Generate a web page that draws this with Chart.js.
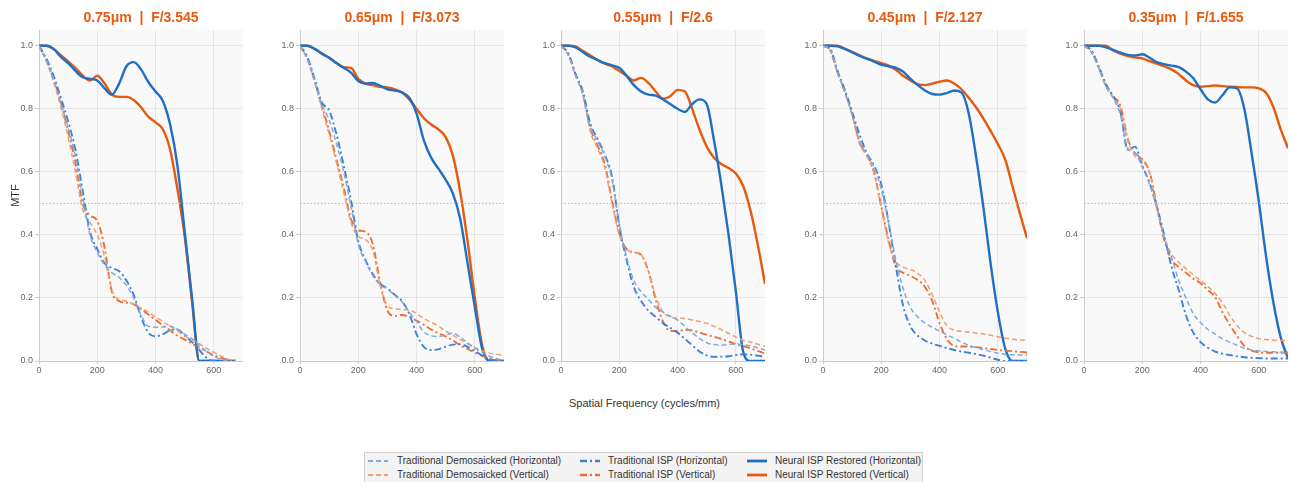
<!DOCTYPE html>
<html><head><meta charset="utf-8">
<script src="https://cdn.jsdelivr.net/npm/chart.js@4.4.1/dist/chart.umd.min.js"></script>
<style>
html,body{margin:0;padding:0;background:#fff;width:1289px;height:482px;overflow:hidden;position:relative;font-family:"Liberation Sans",Arial,sans-serif;}
.panel{position:absolute;top:0;}
#xtitle{position:absolute;left:0;width:1289px;top:397px;text-align:center;font-size:11px;color:#333;}
#legend{position:absolute;left:364px;top:452px;width:559px;height:36px;background:#f3f3f3;border:1px solid #cfcfcf;box-sizing:border-box;}
.lbl{position:absolute;font-size:10px;color:#333;white-space:nowrap;line-height:12px;}
.smp{position:absolute;}
</style></head>
<body>
<div id="xtitle">Spatial Frequency (cycles/mm)</div>
<div id="legend"></div>
<script>
// ---------------- DATA ----------------
const FREQ = [0,25,50,75,100,125,150,175,200,225,250,275,300,325,350,375,400,425,450,475,500,525,550,575,600,625,650,675,700];
const TITLES = ['0.75\u03bcm  |  F/3.545','0.65\u03bcm  |  F/3.073','0.55\u03bcm  |  F/2.6','0.45\u03bcm  |  F/2.127','0.35\u03bcm  |  F/1.655'];
const SERIES_NAMES = ['Traditional Demosaicked (Horizontal)','Traditional Demosaicked (Vertical)','Traditional ISP (Horizontal)','Traditional ISP (Vertical)','Neural ISP Restored (Horizontal)','Neural ISP Restored (Vertical)'];
const Y_TICKS = [0,0.2,0.4,0.6,0.8,1.0];
const X_TICKS = [0,200,400,600];
const REF_LEVEL = 0.5;

// Panel 1: 0.75um
const P1_TDH = [1.0,0.955,0.895,0.82,0.74,0.65,0.52,0.40,0.345,0.305,0.28,0.265,0.24,0.2,0.145,0.11,0.107,0.108,0.11,0.1,0.085,0.07,0.05,0.03,0.015,0.005,0.0,null,null];
const P1_TDV = [1.0,0.95,0.885,0.805,0.71,0.60,0.48,0.44,0.40,0.33,0.225,0.195,0.19,0.18,0.168,0.155,0.14,0.125,0.11,0.095,0.08,0.068,0.055,0.04,0.028,0.015,0.006,0.0,null];
const P1_TIH = [1.0,0.96,0.905,0.835,0.76,0.67,0.54,0.41,0.355,0.31,0.295,0.285,0.255,0.21,0.14,0.09,0.078,0.085,0.097,0.1,0.08,0.06,0.035,0.01,0.0,0.0,null,null,null];
const P1_TIV = [1.0,0.955,0.895,0.82,0.73,0.63,0.5,0.462,0.445,0.36,0.22,0.19,0.185,0.18,0.165,0.148,0.13,0.113,0.097,0.08,0.068,0.055,0.042,0.03,0.018,0.01,0.003,0.0,null];
const P1_NH  = [1.0,1.0,0.99,0.965,0.945,0.92,0.90,0.895,0.89,0.865,0.845,0.88,0.935,0.948,0.925,0.885,0.855,0.825,0.75,0.62,0.41,0.2,0.0,0,0,0,0,0,null];
const P1_NV  = [1.0,1.0,0.99,0.97,0.95,0.93,0.905,0.89,0.905,0.88,0.845,0.838,0.838,0.828,0.805,0.775,0.757,0.735,0.67,0.545,0.395,0.19,0.0,0,0,0,0,0,null];

// Panel 2: 0.65um
const P2_TDH = [1.0,0.96,0.89,0.815,0.765,0.69,0.6,0.49,0.37,0.315,0.27,0.242,0.228,0.208,0.188,0.155,0.125,0.092,0.08,0.078,0.082,0.088,0.075,0.058,0.04,0.028,0.015,0.007,0.002];
const P2_TDV = [1.0,0.955,0.885,0.80,0.72,0.63,0.535,0.44,0.395,0.385,0.35,0.24,0.175,0.166,0.163,0.162,0.15,0.135,0.123,0.11,0.095,0.082,0.068,0.055,0.043,0.032,0.025,0.021,0.018];
const P2_TIH = [1.0,0.965,0.895,0.82,0.795,0.72,0.62,0.51,0.38,0.32,0.275,0.245,0.23,0.21,0.19,0.15,0.085,0.045,0.035,0.037,0.045,0.052,0.053,0.045,0.032,0.017,0.006,0.001,0];
const P2_TIV = [1.0,0.96,0.89,0.81,0.73,0.64,0.55,0.45,0.415,0.41,0.37,0.25,0.16,0.143,0.146,0.14,0.128,0.115,0.1,0.088,0.078,0.065,0.05,0.038,0.027,0.016,0.008,0.003,0];
const P2_NH  = [1.0,1.0,0.99,0.975,0.962,0.945,0.93,0.915,0.888,0.88,0.882,0.873,0.862,0.858,0.852,0.835,0.785,0.70,0.645,0.61,0.575,0.53,0.45,0.31,0.17,0.04,0,0,0];
const P2_NV  = [1.0,1.0,0.99,0.975,0.962,0.945,0.932,0.93,0.895,0.88,0.875,0.87,0.868,0.862,0.852,0.83,0.80,0.77,0.75,0.735,0.71,0.65,0.535,0.38,0.2,0.05,0,0,0];

// Panel 3: 0.55um
const P3_TDH = [1.0,0.97,0.905,0.845,0.745,0.70,0.65,0.575,0.435,0.33,0.255,0.22,0.195,0.17,0.155,0.142,0.13,0.11,0.09,0.072,0.058,0.052,0.05,0.052,0.054,0.052,0.048,0.042,0.035];
const P3_TDV = [1.0,0.97,0.905,0.845,0.73,0.675,0.615,0.50,0.40,0.355,0.345,0.337,0.285,0.205,0.155,0.14,0.136,0.135,0.13,0.125,0.12,0.11,0.1,0.088,0.076,0.066,0.06,0.053,0.046];
const P3_TIH = [1.0,0.975,0.91,0.855,0.755,0.705,0.655,0.585,0.43,0.32,0.235,0.19,0.16,0.14,0.12,0.105,0.09,0.07,0.05,0.03,0.018,0.013,0.014,0.015,0.019,0.021,0.02,0.017,0.014];
const P3_TIV = [1.0,0.975,0.91,0.85,0.74,0.685,0.625,0.51,0.405,0.355,0.345,0.337,0.285,0.195,0.125,0.095,0.095,0.099,0.097,0.09,0.083,0.077,0.07,0.062,0.054,0.047,0.04,0.032,0.024];
const P3_NH  = [1.0,1.0,0.995,0.98,0.965,0.955,0.945,0.938,0.93,0.905,0.875,0.855,0.845,0.842,0.83,0.815,0.80,0.79,0.815,0.83,0.815,0.70,0.56,0.40,0.22,0.03,0,0,0];
const P3_NV  = [1.0,1.0,0.998,0.983,0.97,0.955,0.943,0.935,0.92,0.905,0.89,0.898,0.882,0.855,0.832,0.84,0.86,0.855,0.80,0.735,0.68,0.645,0.625,0.612,0.595,0.555,0.478,0.37,0.245];

// Panel 4: 0.45um
const P4_TDH = [1.0,0.985,0.915,0.855,0.78,0.70,0.655,0.615,0.545,0.44,0.32,0.23,0.17,0.14,0.12,0.107,0.095,0.083,0.072,0.06,0.05,0.042,0.036,0.03,0.025,0.021,0.02,0.019,0.019];
const P4_TDV = [1.0,0.985,0.915,0.85,0.78,0.69,0.65,0.595,0.485,0.375,0.315,0.298,0.29,0.278,0.255,0.21,0.155,0.113,0.098,0.094,0.092,0.089,0.086,0.082,0.077,0.072,0.069,0.067,0.065];
const P4_TIH = [1.0,0.99,0.92,0.86,0.79,0.72,0.66,0.62,0.56,0.44,0.30,0.175,0.11,0.08,0.065,0.055,0.048,0.041,0.035,0.03,0.026,0.022,0.017,0.011,0.004,0,0,0,0];
const P4_TIV = [1.0,0.985,0.915,0.855,0.785,0.695,0.655,0.6,0.49,0.385,0.30,0.28,0.27,0.257,0.235,0.19,0.12,0.07,0.048,0.046,0.046,0.044,0.041,0.038,0.035,0.033,0.031,0.029,0.027];
const P4_NH  = [1.0,1.0,0.998,0.99,0.98,0.968,0.959,0.95,0.94,0.935,0.93,0.918,0.895,0.875,0.858,0.847,0.845,0.85,0.858,0.852,0.785,0.65,0.49,0.31,0.155,0.04,0,0,0];
const P4_NV  = [1.0,1.0,1.0,0.99,0.98,0.97,0.96,0.952,0.945,0.937,0.924,0.905,0.89,0.878,0.875,0.88,0.886,0.89,0.88,0.862,0.835,0.805,0.77,0.73,0.688,0.64,0.555,0.47,0.39];

// Panel 5: 0.35um
const P5_TDH = [1.0,0.98,0.93,0.87,0.835,0.78,0.675,0.66,0.615,0.56,0.485,0.395,0.33,0.255,0.2,0.15,0.122,0.1,0.085,0.07,0.06,0.05,0.04,0.035,0.032,0.03,0.029,0.028,0.028];
const P5_TDV = [1.0,0.98,0.93,0.875,0.835,0.8,0.70,0.65,0.635,0.595,0.49,0.39,0.34,0.313,0.293,0.273,0.255,0.236,0.214,0.185,0.145,0.113,0.09,0.078,0.071,0.068,0.066,0.065,0.065];
const P5_TIH = [1.0,0.985,0.935,0.875,0.84,0.79,0.67,0.68,0.62,0.565,0.49,0.40,0.30,0.225,0.145,0.09,0.06,0.042,0.03,0.023,0.019,0.015,0.012,0.01,0.009,0.008,0.008,0.008,0.008];
const P5_TIV = [1.0,0.985,0.935,0.88,0.84,0.81,0.705,0.66,0.64,0.6,0.49,0.385,0.323,0.298,0.28,0.261,0.247,0.225,0.203,0.155,0.115,0.08,0.048,0.033,0.028,0.026,0.026,0.026,0.026];
const P5_NH  = [1.0,1.0,1.0,0.995,0.987,0.978,0.971,0.969,0.973,0.962,0.948,0.942,0.937,0.932,0.918,0.897,0.862,0.83,0.82,0.843,0.868,0.865,0.8,0.66,0.505,0.33,0.185,0.075,0.008];
const P5_NV  = [1.0,1.0,1.0,1.0,0.985,0.975,0.967,0.963,0.96,0.951,0.943,0.935,0.925,0.91,0.89,0.875,0.87,0.872,0.874,0.872,0.87,0.869,0.868,0.868,0.865,0.85,0.805,0.735,0.675];

const PANELS = [
  [P1_TDH,P1_TDV,P1_TIH,P1_TIV,P1_NH,P1_NV],
  [P2_TDH,P2_TDV,P2_TIH,P2_TIV,P2_NH,P2_NV],
  [P3_TDH,P3_TDV,P3_TIH,P3_TIV,P3_NH,P3_NV],
  [P4_TDH,P4_TDV,P4_TIH,P4_TIV,P4_NH,P4_NV],
  [P5_TDH,P5_TDV,P5_TIH,P5_TIV,P5_NH,P5_NV]
];

// ---------------- STYLE ----------------
const FONT = '"Liberation Sans", Arial, sans-serif';
Chart.defaults.font.family = FONT;
const STYLES = [
  {color:'#7eaae3', width:1.5, dash:[5,3]},
  {color:'#f39e6e', width:1.5, dash:[5,3]},
  {color:'#3d82d6', width:1.9, dash:[7,3,2,3]},
  {color:'#ee6f31', width:1.9, dash:[7,3,2,3]},
  {color:'#1f6fc5', width:2.4, dash:[]},
  {color:'#e8590c', width:2.4, dash:[]}
];
const PANEL_LEFT = [0,261,522,784,1045];
const AXIS_W = 39, PLOT_W = 204, CANVAS_H = 381;

const bgPlugin = {
  id:'plotbg',
  beforeDraw(chart){
    const {ctx, chartArea:a} = chart;
    ctx.save(); ctx.fillStyle = '#f9f9f9';
    ctx.fillRect(a.left, a.top, a.right-a.left, a.bottom-a.top);
    ctx.restore();
  }
};

PANELS.forEach((series, i) => {
  const div = document.createElement('div');
  div.className = 'panel';
  div.style.left = PANEL_LEFT[i] + 'px';
  const cv = document.createElement('canvas');
  cv.width = AXIS_W + PLOT_W; cv.height = CANVAS_H;
  cv.style.width = cv.width + 'px'; cv.style.height = cv.height + 'px';
  div.appendChild(cv); document.body.appendChild(div);

  const datasets = [{
    data:[{x:FREQ[0],y:REF_LEVEL},{x:FREQ[FREQ.length-1],y:REF_LEVEL}],
    borderColor:'#b5b5b5', borderWidth:1, borderDash:[1.5,2], cubicInterpolationMode:'default', tension:0
  }];
  series.forEach((arr, k) => {
    datasets.push({
      label: SERIES_NAMES[k],
      data: FREQ.map((f, j) => ({x:f, y:arr[j]})),
      borderColor: STYLES[k].color, borderWidth: STYLES[k].width, borderDash: STYLES[k].dash,
      cubicInterpolationMode:'monotone', spanGaps:false, borderCapStyle:'butt'
    });
  });

  new Chart(cv.getContext('2d'), {
    type:'line',
    data:{datasets},
    options:{
      responsive:false, animation:false, devicePixelRatio:1,
      layout:{padding:0},
      elements:{point:{radius:0}},
      plugins:{
        legend:{display:false}, tooltip:{enabled:false},
        title:{display:true, text:TITLES[i], color:'#e8590c', fullSize:false,
          font:{family:FONT, size:14, weight:'bold'}, padding:{top:10, bottom:3.2}}
      },
      scales:{
        x:{type:'linear', min:0, max:700,
          afterBuildTicks(s){ s.ticks = X_TICKS.map(v => ({value:v})); },
          ticks:{font:{size:9}, color:'#666', padding:1, maxRotation:0, autoSkip:false},
          grid:{color:'#e6e6e6', tickLength:3, tickColor:'#cccccc'},
          border:{color:'#cccccc'},
          afterFit(s){ s.height = CANVAS_H - 361; }
        },
        y:{min:0, max:1.05,
          afterBuildTicks(s){ s.ticks = Y_TICKS.map(v => ({value:v})); },
          ticks:{font:{size:9}, color:'#666', padding:2, callback:v => Number(v).toFixed(1)},
          grid:{color:'#e6e6e6', tickLength:4, tickColor:'#cccccc'},
          border:{color:'#cccccc'},
          title:{display:i===0, text:'MTF', color:'#333', font:{size:11}, padding:{top:9,bottom:0}},
          afterFit(s){ s.width = AXIS_W; }
        }
      }
    },
    plugins:[bgPlugin]
  });
});

// ---------------- LEGEND ----------------
const LEG_ORDER = [0,2,4,1,3,5];
const COL_SAMPLE_X = [2,214,381];
const COL_TEXT_X = [32,243,410];
const ROW_Y = [2,16];
const leg = document.getElementById('legend');
LEG_ORDER.forEach((k, n) => {
  const col = n % 3, row = Math.floor(n / 3);
  const st = STYLES[k];
  const svgNS = 'http://www.w3.org/2000/svg';
  const svg = document.createElementNS(svgNS,'svg');
  svg.setAttribute('width','22'); svg.setAttribute('height','10');
  svg.setAttribute('class','smp');
  svg.style.left = COL_SAMPLE_X[col] + 'px'; svg.style.top = (ROW_Y[row] + 1) + 'px';
  const ln = document.createElementNS(svgNS,'line');
  ln.setAttribute('x1','1'); ln.setAttribute('x2','21'); ln.setAttribute('y1','5'); ln.setAttribute('y2','5');
  ln.setAttribute('stroke', st.color); ln.setAttribute('stroke-width', st.width + 0.4);
  if (st.dash.length) ln.setAttribute('stroke-dasharray', st.dash.join(','));
  svg.appendChild(ln); leg.appendChild(svg);
  const t = document.createElement('div');
  t.className = 'lbl'; t.textContent = SERIES_NAMES[k];
  t.style.left = COL_TEXT_X[col] + 'px'; t.style.top = ROW_Y[row] + 'px';
  leg.appendChild(t);
});
</script>
</body></html>
